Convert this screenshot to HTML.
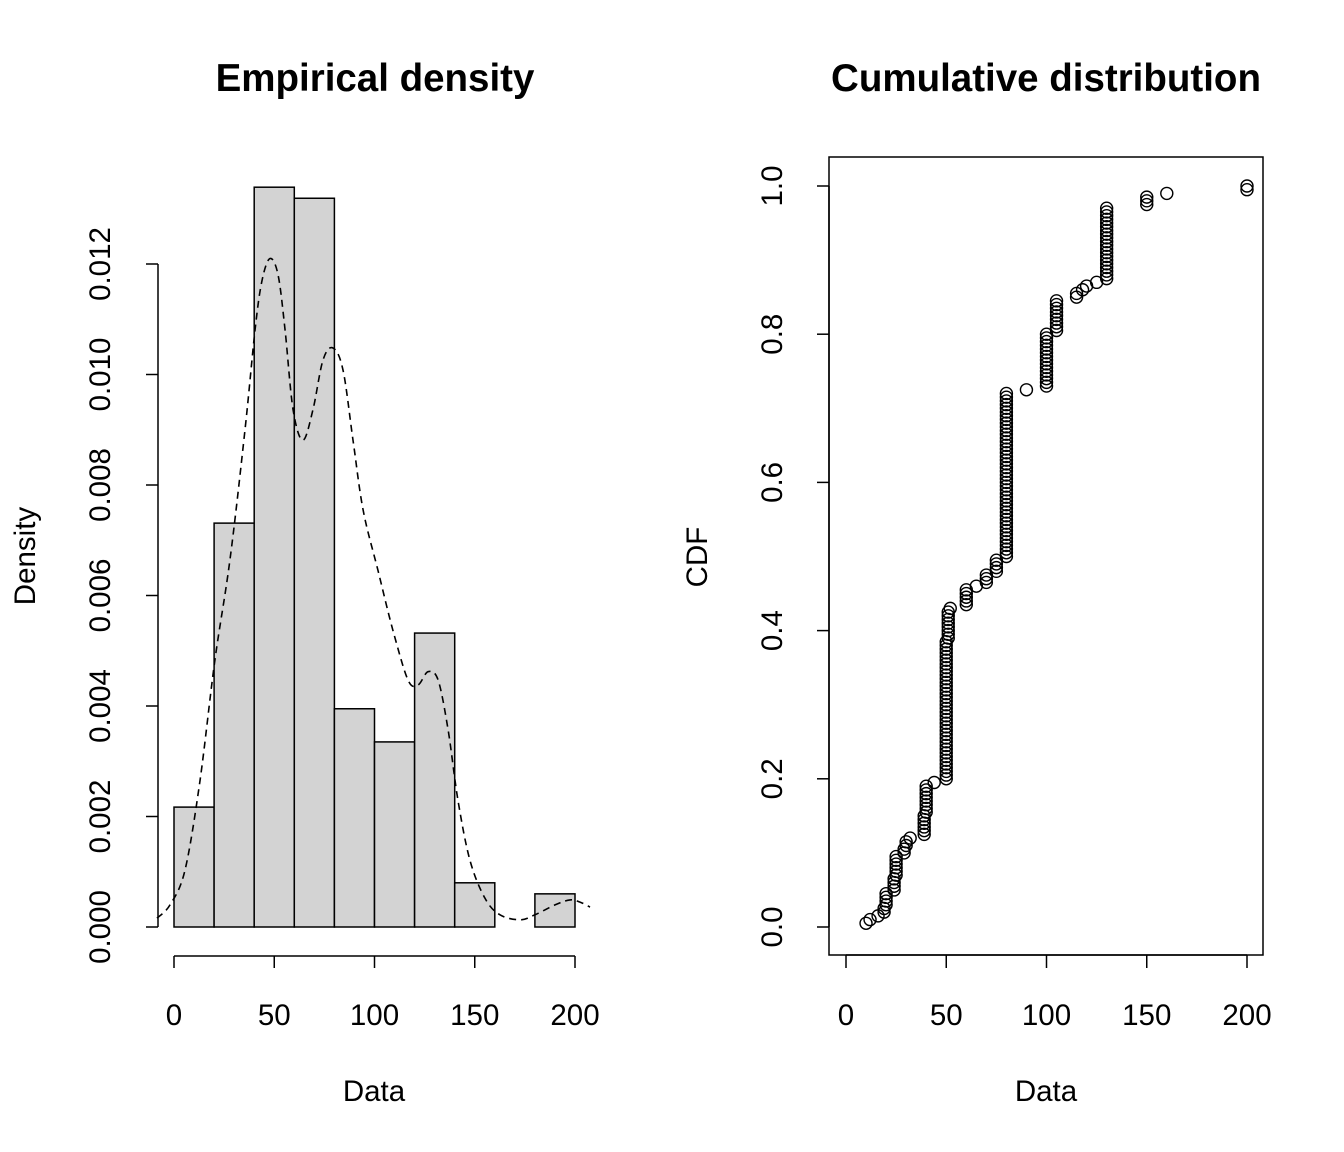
<!DOCTYPE html>
<html><head><meta charset="utf-8"><style>
body{margin:0;background:#fff}
svg{display:block;font-family:"Liberation Sans",sans-serif}
</style></head><body>
<svg id="c" width="1344" height="1152"></svg>
<script>
// Histogram data
const binEdges=[0,20,40,60,80,100,120,140,160,180,200];
const binDensity=[0.00217,0.00731,0.01339,0.01319,0.00395,0.00335,0.00532,0.0008,0,0.0006];
// Kernel density curve
const kdeX=[-8.5,-2,5.5,13,20.4,27.9,35.4,40.4,43.9,47.9,51.9,55.4,59.4,64.3,69.3,74.3,79.3,84.3,89.3,94.3,101.7,109.2,116.7,121.7,126.7,131.7,136.7,141.6,147.6,155.1,162.6,172.6,180,190,197.5,202.5,207.5];
const kdeY=[0.00016,0.0004,0.00103,0.00266,0.00483,0.00664,0.009,0.0108,0.0117,0.0121,0.0118,0.0108,0.00936,0.00881,0.00936,0.01026,0.01048,0.01008,0.00881,0.00755,0.00646,0.00537,0.00447,0.00438,0.00462,0.00447,0.00357,0.0023,0.00121,0.00052,0.00022,0.00013,0.00022,0.0004,0.00049,0.00045,0.00036];
// ECDF data: unique values and counts
const cdfValues=[10,12,16,19,20,24,25,29,30,32,39,40,44,50,51,52,60,65,70,75,80,90,100,105,115,118,120,125,130,150,160,200];
const cdfCounts=[1,1,1,2,4,4,6,2,2,1,6,8,1,38,8,1,5,1,3,4,45,1,15,9,2,1,1,1,20,3,1,2];
const xTicks=[0,50,100,150,200];
const densTicks=[0,0.002,0.004,0.006,0.008,0.010,0.012];
const densLabels=["0.000","0.002","0.004","0.006","0.008","0.010","0.012"];
const cdfTicks=[0,0.2,0.4,0.6,0.8,1.0];
const cdfLabels=["0.0","0.2","0.4","0.6","0.8","1.0"];

const svg=document.getElementById('c');
const NS='http://www.w3.org/2000/svg';
function el(tag,attrs,parent){const e=document.createElementNS(NS,tag);for(const k in attrs)e.setAttribute(k,attrs[k]);(parent||svg).appendChild(e);return e;}
function txt(s,x,y,size,opts,name){const t=el('text',Object.assign({x:x,y:y,'font-size':size,'text-anchor':'middle',fill:'#000'},opts||{}));t.textContent=s;


return t;}
const FS=29.5;
// Left panel scales
const lx=v=>174+(v-0)*(575-174)/200;
const ly=v=>927-v*(927-264)/0.012;
const gL=el('g',{});


txt('Empirical density',375,91,38.5,{'font-weight':'bold'},'density-title');
for(let i=0;i<binDensity.length;i++){
  const r=el('rect',{x:lx(binEdges[i]),y:ly(binDensity[i]),width:lx(binEdges[i+1])-lx(binEdges[i]),height:ly(0)-ly(binDensity[i]),fill:'#d3d3d3',stroke:'#000','stroke-width':1.5},gL);
  
  
}
// smooth path (Catmull-Rom)
const P=kdeX.map((x,i)=>[lx(x),ly(kdeY[i])]);
let d='M'+P[0][0].toFixed(1)+','+P[0][1].toFixed(1);
for(let i=0;i<P.length-1;i++){const p0=P[Math.max(i-1,0)],p1=P[i],p2=P[i+1],p3=P[Math.min(i+2,P.length-1)];
 const c1=[p1[0]+(p2[0]-p0[0])/6,p1[1]+(p2[1]-p0[1])/6],c2=[p2[0]-(p3[0]-p1[0])/6,p2[1]-(p3[1]-p1[1])/6];
 d+=`C${c1[0].toFixed(1)},${c1[1].toFixed(1)} ${c2[0].toFixed(1)},${c2[1].toFixed(1)} ${p2[0].toFixed(1)},${p2[1].toFixed(1)}`;}
const kp=el('path',{d:d,fill:'none',stroke:'#000','stroke-width':1.6,'stroke-dasharray':'7,5'},gL);


// left y axis
el('line',{x1:158,y1:ly(0.012),x2:158,y2:ly(0),stroke:'#000','stroke-width':1.5},gL);
densTicks.forEach((v,i)=>{el('line',{x1:146,y1:ly(v),x2:158,y2:ly(v),stroke:'#000','stroke-width':1.5},gL);
 txt(densLabels[i],110,ly(v),FS,{transform:`rotate(-90 110 ${ly(v)})`},'density-y-tick-label');});
// left x axis
el('line',{x1:lx(0),y1:956,x2:lx(200),y2:956,stroke:'#000','stroke-width':1.5},gL);
xTicks.forEach(v=>{el('line',{x1:lx(v),y1:956,x2:lx(v),y2:968,stroke:'#000','stroke-width':1.5},gL);
 txt(String(v),lx(v),1025,FS,{},'density-x-tick-label');});
txt('Data',374,1101,FS,{},'density-x-axis-title');
txt('Density',35,556,FS,{transform:'rotate(-90 35 556)'},'density-y-axis-title');

// Right panel
const rx=v=>846+v*(1247-846)/200;
const ry=v=>927-v*(927-186)/1.0;
txt('Cumulative distribution',1046,91,38.5,{'font-weight':'bold'},'cdf-title');
const box=el('rect',{x:829,y:157,width:434,height:798,fill:'none',stroke:'#000','stroke-width':1.5});


const n=cdfCounts.reduce((a,b)=>a+b,0);
let cum=0;
cdfValues.forEach((v,i)=>{for(let k=0;k<cdfCounts[i];k++){cum++;
 const c=el('circle',{cx:rx(v),cy:ry(cum/n),r:6,fill:'none',stroke:'#000','stroke-width':1.4});
 
 }});
el('line',{x1:829,y1:ry(0),x2:829,y2:ry(1),stroke:'#000','stroke-width':1.5});
cdfTicks.forEach((v,i)=>{el('line',{x1:817,y1:ry(v),x2:829,y2:ry(v),stroke:'#000','stroke-width':1.5});
 txt(cdfLabels[i],782,ry(v),FS,{transform:`rotate(-90 782 ${ry(v)})`},'cdf-y-tick-label');});
xTicks.forEach(v=>{el('line',{x1:rx(v),y1:955,x2:rx(v),y2:968,stroke:'#000','stroke-width':1.5});
 txt(String(v),rx(v),1025,FS,{},'cdf-x-tick-label');});
el('line',{x1:rx(0),y1:955,x2:rx(200),y2:955,stroke:'#000','stroke-width':1.5});
txt('Data',1046,1101,FS,{},'cdf-x-axis-title');
txt('CDF',707,557,FS,{transform:'rotate(-90 707 557)'},'cdf-y-axis-title');
</script>
</body></html>
